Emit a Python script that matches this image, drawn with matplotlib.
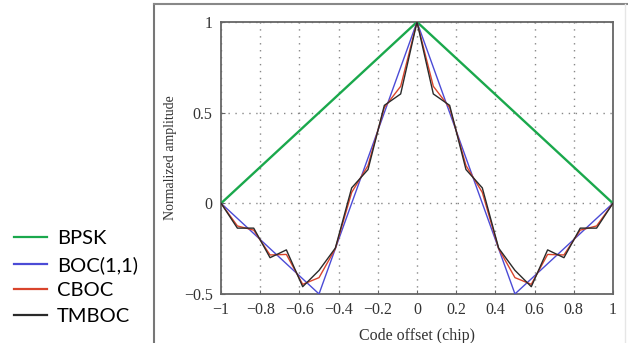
import numpy as np
import matplotlib
matplotlib.use('Agg')
import matplotlib.pyplot as plt
from matplotlib.lines import Line2D

# code offsets (chip) where the curves break, 1/12 chip grid
offsets = [-1, -11/12, -10/12, -9/12, -8/12, -7/12, -6/12, -5/12, -4/12,
           -3/12, -2/12, -1/12, 0, 1/12, 2/12, 3/12, 4/12, 5/12, 6/12,
           7/12, 8/12, 9/12, 10/12, 11/12, 1]

bpsk_x = [-1, 0, 1]
bpsk_y = [0, 1, 0]

boc_x = [-1, -0.5, 0, 0.5, 1]
boc_y = [0, -0.5, 1, -0.5, 0]

cboc_y = [0, -0.125, -0.148, -0.285, -0.282, -0.447, -0.41, -0.25, 0.06,
          0.208, 0.528, 0.645, 1, 0.645, 0.528, 0.208, 0.06, -0.25, -0.41,
          -0.447, -0.282, -0.285, -0.148, -0.125, 0]

tmboc_y = [0, -0.137, -0.137, -0.30, -0.257, -0.46, -0.37, -0.247, 0.085,
           0.186, 0.54, 0.603, 1, 0.603, 0.54, 0.186, 0.085, -0.247, -0.37,
           -0.46, -0.257, -0.30, -0.137, -0.137, 0]

labels = ['BPSK', 'BOC(1,1)', 'CBOC', 'TMBOC']
colors = ['#1aa84c', '#4b4bd6', '#d9442c', '#2a2a2a']

xticks = [-1, -0.8, -0.6, -0.4, -0.2, 0, 0.2, 0.4, 0.6, 0.8, 1]
xticklabels = ['\u22121', '\u22120.8', '\u22120.6', '\u22120.4', '\u22120.2',
               '0', '0.2', '0.4', '0.6', '0.8', '1']
yticks = [-0.5, 0, 0.5, 1]
yticklabels = ['\u22120.5', '0', '0.5', '1']

fig = plt.figure(figsize=(6.28, 3.43), dpi=100)
ax = fig.add_axes([0.352, 0.143, 0.624, 0.793])

ax.plot(bpsk_x, bpsk_y, color=colors[0], lw=1.7, zorder=3)
ax.plot(boc_x, boc_y, color=colors[1], lw=1.0, zorder=4)
ax.plot(offsets, cboc_y, color=colors[2], lw=1.0, zorder=5)
ax.plot(offsets, tmboc_y, color=colors[3], lw=1.0, zorder=6)

ax.set_xlim(-1, 1)
ax.set_ylim(-0.5, 1)
ax.set_xticks(xticks)
ax.set_xticklabels(xticklabels)
ax.set_yticks(yticks)
ax.set_yticklabels(yticklabels)

serif = 'Liberation Serif'
for t in ax.get_xticklabels() + ax.get_yticklabels():
    t.set_fontfamily(serif)
    t.set_fontsize(11.5)
    t.set_color('#333333')
ax.tick_params(direction='in', length=3, color='#666666', pad=6)
ax.grid(True, linestyle=(0, (1, 4)), color='#888888', lw=1.0)
for s in ax.spines.values():
    s.set_color('#666666')
    s.set_linewidth(1.3)

ax.set_xlabel('Code offset (chip)', fontfamily=serif, fontsize=11.5,
              color='#333333', labelpad=7)
ax.set_ylabel('Normalized amplitude', fontfamily=serif, fontsize=10,
              color='#333333', labelpad=5)

handles = [Line2D([], [], color=c, lw=1.6) for c in colors]
fig.legend(handles, labels, loc='upper left', bbox_to_anchor=(0.01, 0.352),
           frameon=False, prop={'family': 'Lato', 'size': 14.5},
           handlelength=1.6, handletextpad=0.5, labelspacing=0.42,
           borderaxespad=0)

# outer frame of the figure panel
fig.add_artist(Line2D([154/628, 154/628], [0, 1 - 4/343],
                      transform=fig.transFigure, color='#777777', lw=1.5))
fig.add_artist(Line2D([154/628, 1], [1 - 4/343, 1 - 4/343],
                      transform=fig.transFigure, color='#888888', lw=1.5))
fig.add_artist(Line2D([625/628, 625/628], [0, 1 - 4/343],
                      transform=fig.transFigure, color='#e6e6e6', lw=1.0))

fig.savefig('out.png', dpi=100)
